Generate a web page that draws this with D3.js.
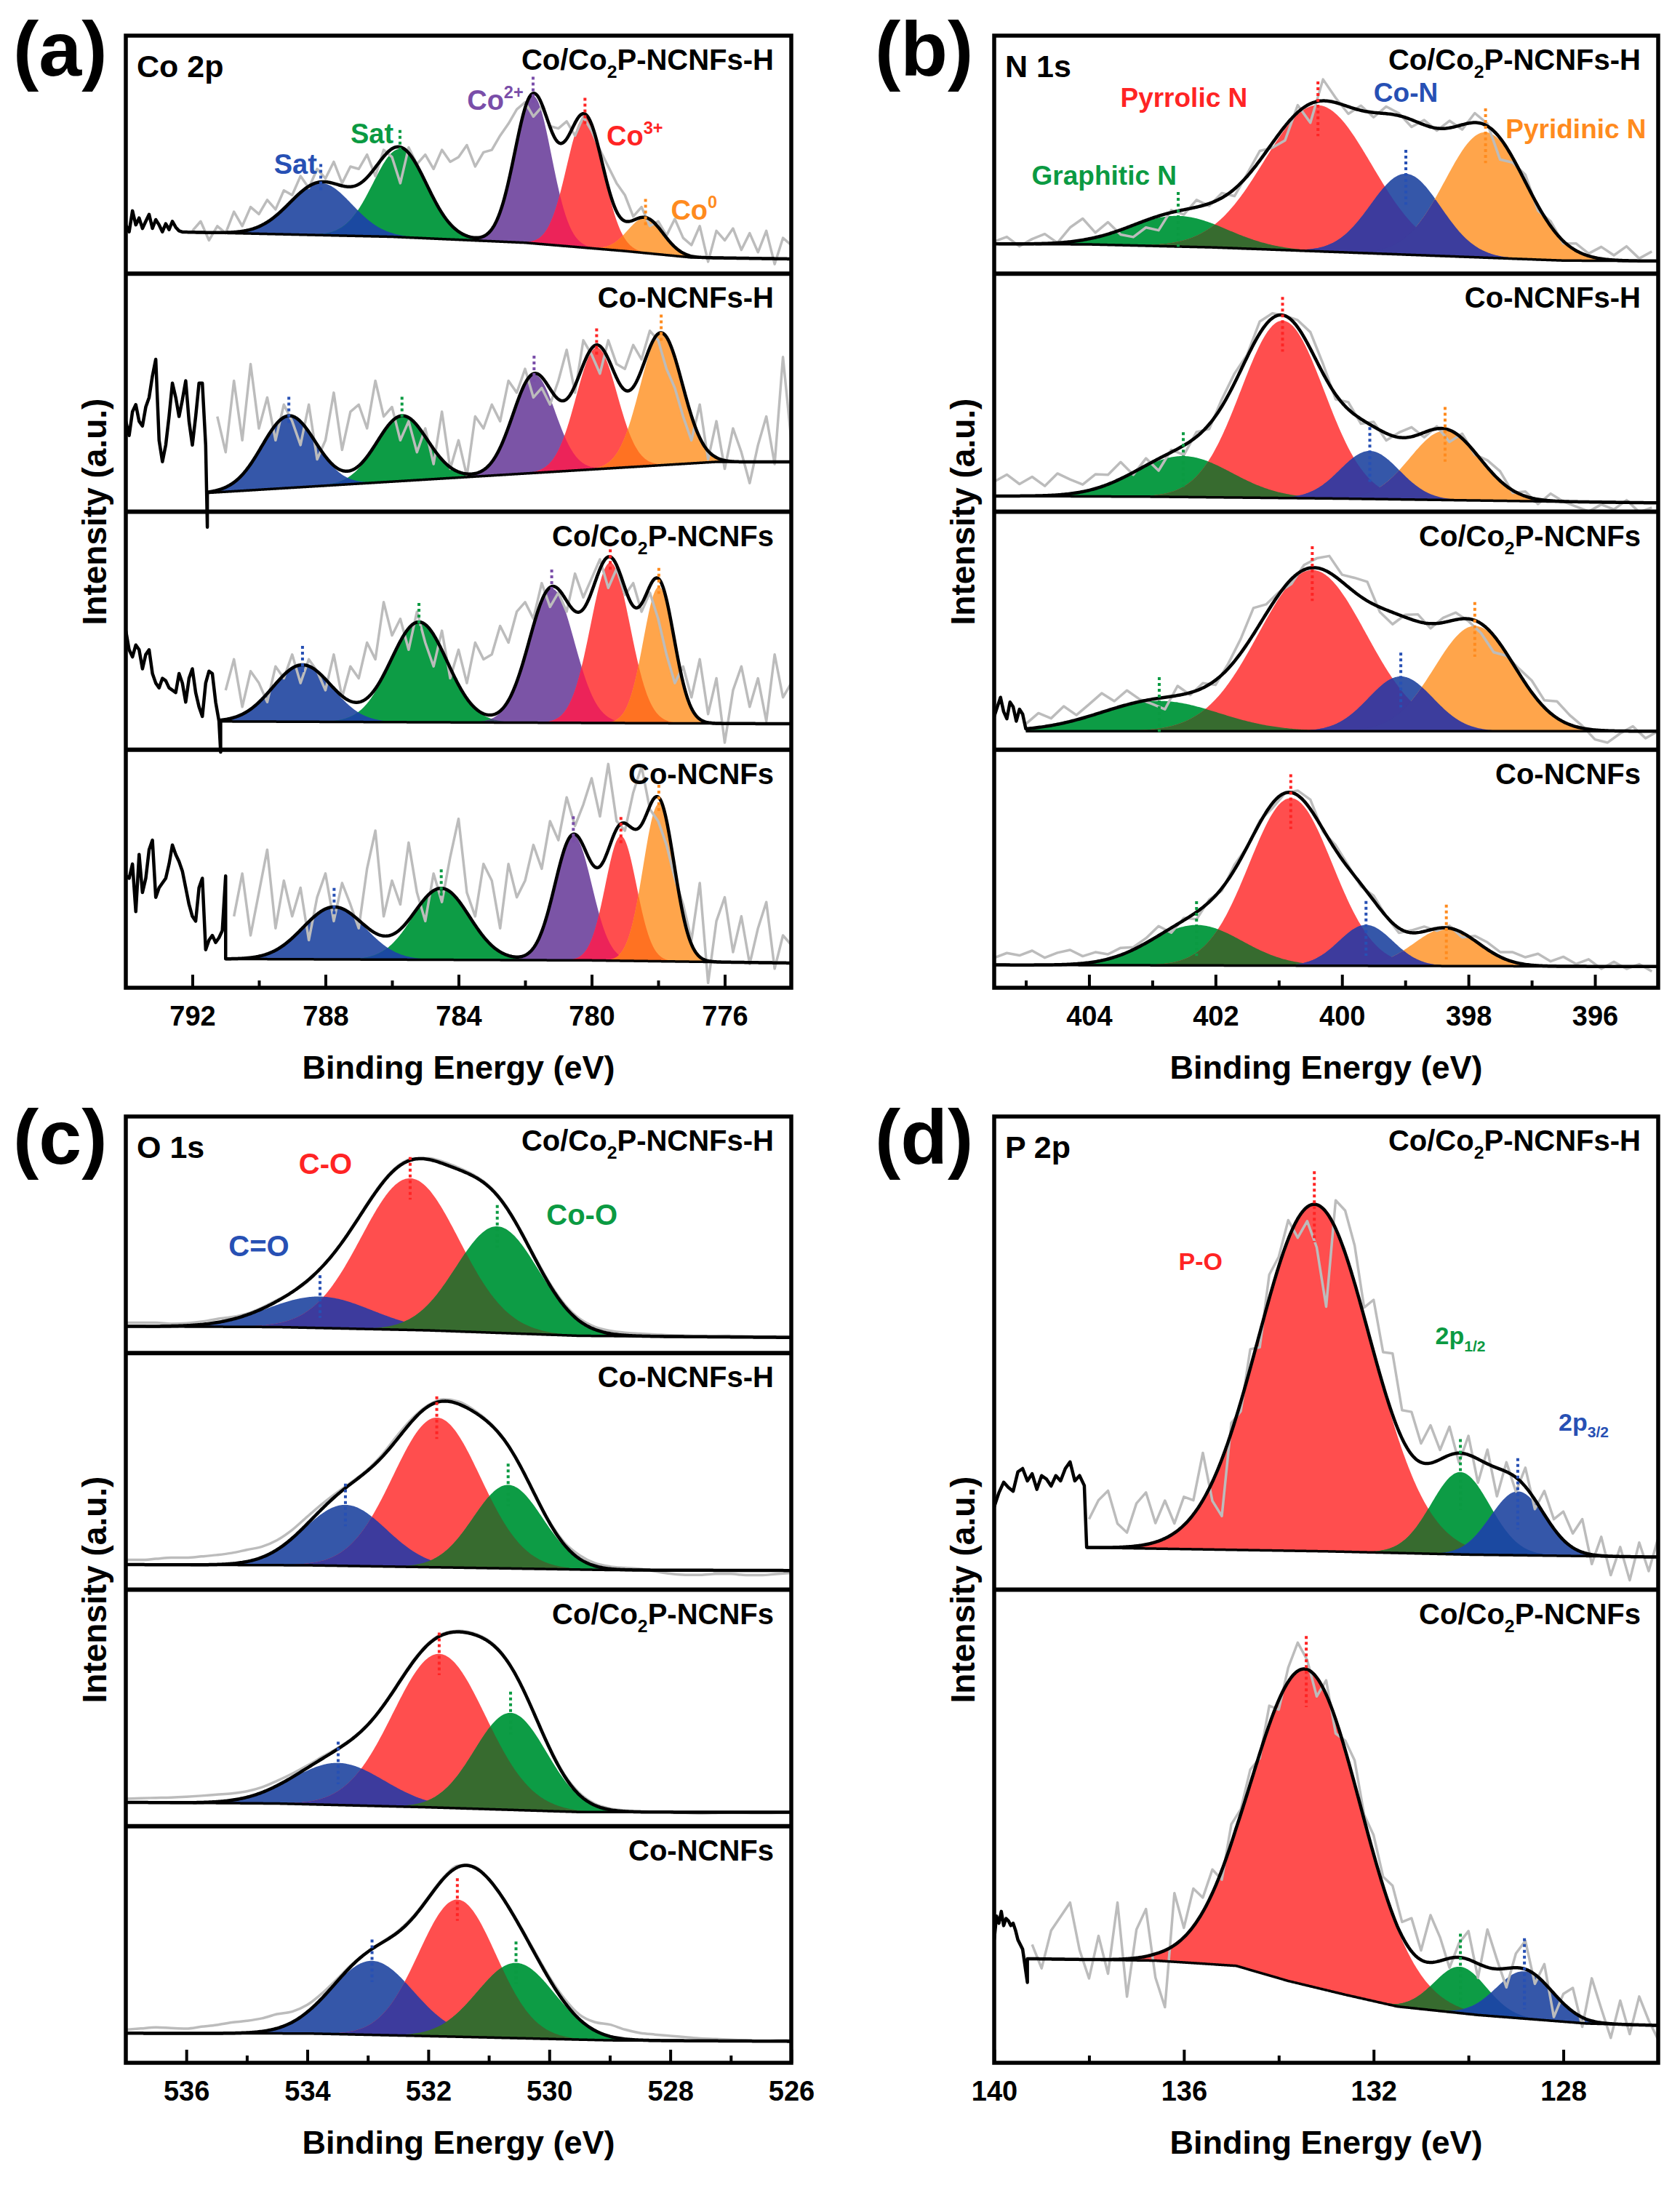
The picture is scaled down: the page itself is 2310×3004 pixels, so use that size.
<!DOCTYPE html>
<html>
<head>
<meta charset="utf-8">
<title>XPS high-resolution spectra</title>
<style>
  body { margin: 0; background: #fff; }
  svg { display: block; }
</style>
</head>
<body>
<div id="container"></div>
<script src="https://d3js.org/d3.v7.min.js"></script>
<script>

// ---------------------------------------------------------------------------
// data. Intensities are in % of the sub-panel height.
// peaks: [component, centre (eV), height, FWHM (eV)]
// bg: Shirley background anchor points [eV, %]
// pre: black raw trace left of the fitted window (e0, fixed step)
// raw: grey raw trace (absolute % for Co 2p, deviation from the fit elsewhere)
// ---------------------------------------------------------------------------

// Co 2p
const co2p_CoPH_peaks = [["blue",788.14,21.9,2.2],["green",785.76,37,1.9],["purple",781.76,62,1.3],["red",780.2,55,1.3],["orange",778.38,14.7,1.25]];
const co2p_CoPH_bg = [[792.3,17.5],[786,15.5],[782,13],[779,9.5],[777,6.8],[774,6.2]];
const co2p_CoPH_pre = [20.5,17.6,26.4,20.5,23.4,19,22,24.9,19,22.7,20.5,17.6,21,18.5,22,19.5,18,17.5];
const co2p_CoPH_raw = [18,22,14,20, 17,26,20,28, 25,31,27,35, 33,41,36,44, 40,47,38,45, 44,50,41,52, 49,38,53,46, 50,44,52,47, 49,54,45,51, 52,58,63,69, 72,66,70,62, 61,64,58,66, 60,52,45,38, 33,24,28,20, 22,16,23,15, 12,20,5,18, 14,19,10,17, 9,18,4,15, 12];

const co2p_CoH_peaks = [["blue",789.1,30.3,1.9],["green",785.7,27.4,1.8],["purple",781.73,41.3,1.5],["red",779.85,51.1,1.45],["orange",777.91,55.3,1.5]];
const co2p_CoH_bg = [[791.55,7.9],[776.3,20.9],[774,20.9]];
const co2p_CoH_pre = [38,32,42,45,38,36,44,48,57,64,30,21,28,40,54,48,40,47,55,38,28,40,54,54,28];
const co2p_CoH_raw = [40,25,55,30,62, 35,48,30,45, 38,28,45,22, 30,50,26,42, 45,35,55,40, 44,30,38,25, 35,20,42,18, 30,15,40,35, 45,38,55,50, 60,48,52,45, 55,68,50,72, 66,58,72,62, 60,70,64,76, 72,60,52,40, 30,45,22,38, 18,35,25,12, 28,40,20,65, 30];

const co2p_CoP_peaks = [["blue",788.69,23.9,2.1],["green",785.19,42.1,2.0],["purple",781.2,56.4,1.6],["red",779.44,67.4,1.4],["orange",777.98,57.3,1.1]];
const co2p_CoP_bg = [[791.15,11.9],[774,10.9]];
const co2p_CoP_pre = [50,42,39,44,42,34,40,42,32,28,26,30,29,26,25,24,32,28,20,30,34,24,18,14,28,33,32,20,12];
const co2p_CoP_raw = [25,38,18,33, 28,20,35,30, 40,28,38,33, 25,40,22,35, 30,45,38,62, 48,55,42,58, 45,35,50,30, 42,28,45,38, 40,52,45,58, 62,55,70,60, 66,58,74,64, 72,80,68,76, 65,70,58,66, 55,40,28,35, 22,38,15,30, 3,25,35,18, 30,12,40,22, 28];

const co2p_Co_peaks = [["blue",787.74,22,2.2],["green",784.52,30,2.0],["purple",780.55,52.5,1.3],["red",779.12,52.4,1.1],["orange",777.98,66.1,1.1]];
const co2p_Co_bg = [[791,12.1],[780,11.5],[774,10.4]];
const co2p_Co_pre = [47,46,52,32,56,40,46,58,62,38,42,44,46,52,60,56,53,49,42,35,30,28,42,46,16,20,22,19,21,24,47];
const co2p_Co_raw = [30,48,22, 40,58,25,45, 30,42,20,38, 48,28,44,35, 25,50,66,30, 45,35,61,40, 28,48,36,55, 71,40,30,52, 45,25,52,38, 45,60,50,70, 62,80,68,77, 88,72,94,70, 66,82,93,75, 70,60,46,35, 20,44,2,28, 38,15,30,10, 25,36,8,22, 18];

// N 1s
const n1s_CoPH_peaks = [["green",402.59,12.9,1.8],["red",400.38,61.4,2.0],["blue",398.99,34,1.3],["orange",397.73,52.7,1.5]];
const n1s_CoPH_bg = [[405.5,12.5],[404,12.3],[402,11],[400,9],[398,7],[396.5,5.5],[395,5.3]];
const n1s_CoPH_raw = [1,3,-1,2,4,0,6,9,2,5,-2,-5,-3,-6,1,-2,3,-1,2,-3,1,4,-2,-6,3,-8,9,2,-3,2,-2,3,1,-3,2,-1,3,-2,4,1,-9,-2,3,-2,2,-1,3,1,5,2,6,1,4];

const n1s_CoH_peaks = [["green",402.51,17.2,1.8],["red",400.94,74.5,1.55],["blue",399.56,20.2,1.1],["orange",398.37,29.1,1.3]];
const n1s_CoH_bg = [[405.5,6.6],[403,6.3],[400,5.5],[397,4.4],[395,3.7]];
const n1s_CoH_raw = [6,9,5,8,4,9,6,3,6,4,7,-1,3,-5,1,-4,2,-2,3,4,1,5,2,0,3,7,4,-2,3,-2,2,-3,2,4,-2,1,-5,2,-1,3,4,-1,2,-2,3,0,-2,-4,-1,-3,1,-4,-2];

const n1s_CoP_peaks = [["green",402.89,12.7,2.2],["red",400.47,67.7,2.0],["blue",399.07,23,1.2],["orange",397.9,44.2,1.5]];
const n1s_CoP_bg = [[405,7.8],[395,7.8]];
const n1s_CoP_pre = [14,18,22,16,13,20,18,12,17,15];
const n1s_CoP_raw = [2,6,3,7,2,5,8,3,6,1,-2,-5,4,-1,2,-2,2,6,11,4,1,-2,2,4,7,3,6,8,-2,-5,1,3,-2,2,3,-1,-4,-7,-1,2,5,3,7,4,1,-4,-5,-1,2,-3,0];

const n1s_Co_peaks = [["green",402.3,17,1.7],["red",400.81,70.4,1.55],["blue",399.62,17.2,1.0],["orange",398.35,15.8,1.2]];
const n1s_Co_bg = [[405.5,9.6],[395,8.9]];
const n1s_Co_raw = [3,5,4,6,3,5,6,3,4,2,3,1,2,4,-2,1,-3,1,-1,2,0,1,-2,0,2,4,-1,2,1,-1,2,0,-2,1,2,-1,1,-2,2,3,2,4,3,5,2,4,1,3,-1,2,-1,1,-2];

// O 1s
const o1s_CoPH_peaks = [["blue",533.79,13.3,2.0],["red",532.3,64.1,1.9],["green",530.86,45,1.6]];
const o1s_CoPH_bg = [[537,11.3],[534.5,11],[532,9.6],[529.5,7.3],[526,6.6]];
const o1s_CoPH_raw = [1.5,1.5,1.5,1,1,1.2,1.5,1,0.5,0.5,0.5,0,-0.5,0,0,0.3,0.5,0.5,0.5,0.5,0.5,0.8,0.8,0.6,0.5,0.5,0.5,0.6,0.8,0.9,1,1.1,1.2,1.1,1,0.8,0.5,0.4,0.3,0.4,0.5,0.4,0.3,0.4,0.5];

const o1s_CoH_peaks = [["blue",533.37,25.8,1.6],["red",531.86,63.3,1.7],["green",530.68,35.3,1.35]];
const o1s_CoH_bg = [[537,10.6],[534,10.3],[531.5,9.3],[529,8.3],[526,8.1]];
const o1s_CoH_raw = [2,2,2.5,3,3,3.5,4,4.5,5,4.5,4,3.5,3,2,1,0.5,0.5,1,1.5,1,0.5,0.8,1,0.8,0.5,0.3,0,0.3,0.5,1,1.5,1.2,1,0.8,0.5,-0.5,-1.5,-2,-2,-1.5,-1.5,-2,-2,-1.5,-1];

const o1s_CoP_peaks = [["blue",533.49,17.8,1.8],["red",531.82,65,1.8],["green",530.64,41,1.4]];
const o1s_CoP_bg = [[537,10.1],[534.5,9.6],[532,8],[529.5,6],[526,5.9]];
const o1s_CoP_raw = [1.5,1.8,2,2.2,2.5,2.8,3,2.8,2.5,2.2,2,1.5,1,0.8,0.5,0.3,0,0.3,0.5,0.5,0.5,0.5,0.5,0.5,0.5,0.4,0.3,0.4,0.5,0.6,0.8,0.6,0.5,0.4,0.3,0.1,0,-0.3,-0.5,-0.3,0,-0.2,-0.3,-0.2,0];

const o1s_Co_peaks = [["blue",532.93,31.3,1.6],["red",531.52,58,1.5],["green",530.55,31.8,1.5]];
const o1s_Co_bg = [[537,12.5],[534,12.4],[531.5,11],[529,9.5],[526,9.1]];
const o1s_Co_raw = [1.5,2,2.5,2.2,2,2.8,3.5,4.5,5,5.5,6,4.5,3,2,1,0.5,0,0.3,0.5,0.5,0.5,0.5,0.5,0.3,0,0.3,0.5,0.8,1,1.5,2,3.5,5,4,3,2.5,2,1.5,1,0.8,0.5,0.3,0,0.3,0.5];

// P 2p
const p2p_CoPH_peaks = [["red",133.25,73.3,2.8],["green",130.17,17.4,1.45],["blue",128.96,13.5,1.35]];
const p2p_CoPH_bg = [[138.05,8.9],[133,8.1],[130,7.4],[126,6.9]];
const p2p_CoPH_pre = [17.5,20.5,22.7,21.6,20.8,24.9,25.6,23,24.5,21.2,24.1,23.4,21.9,24.1,23,25.6,27,23,24.1,22];
const p2p_CoPH_raw = [6,10,12,5,3,9,11,4,8,2,6,3,10,-4,-12,2,-2,4,-3,5,2,4,-4,-3,-9,-20,6,9,8,2,11,7,13,6,9,4,8,2,6,-2,4,-5,3,-6,2,-3,4,-2,5,2,6,3,7,-2,4,-4,2,-5,3,-3,4];

const p2p_CoP_peaks = [["red",133.42,66.8,2.7],["green",130.17,9.8,1.3],["blue",128.82,10,1.4]];
const p2p_CoP_bg = [[139.3,22],[136.6,21.6],[134.9,20.5],[133.8,17.3],[132.6,14.4],[131.5,11.9],[129.8,10.1],[127.5,8.3],[126,7.9]];
const p2p_CoP_pre = [26,31,29.5,32,29,30.5,30,29,29.5,28,26,25,24];
const p2p_CoP_raw = [3,-2,6,9,12,2,-4,5,-3,12,-8,6,10,-5,-12,11,2,8,3,5,-2,4,1,3,-1,4,-2,3,6,2,-4,3,-3,2,5,1,4,2,6,3,7,2,10,5,-2,3,6,-3,8,2,-4,3,6,-2,4,-5,2,5,-2,9,3,-3,5,-2,6,1,-3];

// tick values
const co2pTicks = [792,788,784,780,776], co2pMinor = [790,786,782,778];
const n1sTicks = [404,402,400,398,396], n1sMinor = [405,403,401,399,397];
const o1sTicks = [536,534,532,530,528,526], o1sMinor = [535,533,531,529,527];
const p2pTicks = [140,136,132,128], p2pMinor = [138,134,130];

// sample names (with subscript)
const sampleNames = {
  CoPH: [["Co/Co"],["2","sub"],["P-NCNFs-H"]],
  CoH:  [["Co-NCNFs-H"]],
  CoP:  [["Co/Co"],["2","sub"],["P-NCNFs"]],
  Co:   [["Co-NCNFs"]]
};

// ---------------------------------------------------------------------------
// styles
// ---------------------------------------------------------------------------
const fillColor = {blue:"#3557a9", green:"#0d9c45", purple:"#7b54a6", red:"#ff4e4e", orange:"#ffa54b"};
const inkColor = {blue:"#2750b4", green:"#0b9a42", purple:"#7a4ea9", red:"#ff2424", orange:"#ff8b1e"};
const overlapColor = {
  "blue|green":"#1b49a1", "green|purple":"#3e4b6e", "purple|red":"#ec2359",
  "orange|red":"#ff7222", "green|red":"#376b2f", "blue|red":"#3d3b9d", "blue|orange":"#3c3d9d"
};

const W = 2310, H = 3004;

const panels = [
  { id:"a", letter:"(a)", core:"Co 2p", x0:173, x1:1088, y0:49, y1:1358, lx:18, ly:104,
    domain:[794,774], major:co2pTicks, minor:co2pMinor, dot:[8,3], grayCurve:d3.curveLinear, noteSize:38,
    subs:[
      {name:"CoPH", peaks:co2p_CoPH_peaks, bg:co2p_CoPH_bg, fit:792.3,
       pre:{v:co2p_CoPH_pre, e0:794, step:0.1}, raw:{v:co2p_CoPH_raw, e0:792, step:0.25, dev:false}},
      {name:"CoH", peaks:co2p_CoH_peaks, bg:co2p_CoH_bg, fit:791.55, spike:-6.5,
       pre:{v:co2p_CoH_pre, e0:794, step:0.1}, raw:{v:co2p_CoH_raw, e0:791.25, step:0.25, dev:false}},
      {name:"CoP", peaks:co2p_CoP_peaks, bg:co2p_CoP_bg, fit:791.15, spike:-1,
       pre:{v:co2p_CoP_pre, e0:794, step:0.1}, raw:{v:co2p_CoP_raw, e0:791, step:0.25, dev:false}},
      {name:"Co", peaks:co2p_Co_peaks, bg:co2p_Co_bg, fit:791.0,
       pre:{v:co2p_Co_pre, e0:794, step:0.1}, raw:{v:co2p_Co_raw, e0:790.75, step:0.25, dev:false}}
    ],
    notes:[
      {key:"blue", parts:[["Sat"]], e:788.9, p:46, anchor:"middle"},
      {key:"green", parts:[["Sat"]], e:786.6, p:59, anchor:"middle"},
      {key:"purple", parts:[["Co"],["2+","sup"]], e:782.05, p:73, anchor:"end"},
      {key:"red", parts:[["Co"],["3+","sup"]], e:779.55, p:58, anchor:"start"},
      {key:"orange", parts:[["Co"],["0","sup"]], e:777.62, p:27, anchor:"start"}
    ]},
  { id:"b", letter:"(b)", core:"N 1s", x0:1367, x1:2280, y0:49, y1:1358, lx:1203, ly:104,
    domain:[405.5,395], major:n1sTicks, minor:n1sMinor, dot:[10,13], grayCurve:d3.curveLinear, noteSize:37,
    subs:[
      {name:"CoPH", peaks:n1s_CoPH_peaks, bg:n1s_CoPH_bg, raw:{v:n1s_CoPH_raw, e0:405.5, step:0.2, dev:true}},
      {name:"CoH", peaks:n1s_CoH_peaks, bg:n1s_CoH_bg, raw:{v:n1s_CoH_raw, e0:405.5, step:0.2, dev:true}},
      {name:"CoP", peaks:n1s_CoP_peaks, bg:n1s_CoP_bg, fit:405.0,
       pre:{v:n1s_CoP_pre, e0:405.5, step:0.05}, raw:{v:n1s_CoP_raw, e0:405.0, step:0.2, dev:true}},
      {name:"Co", peaks:n1s_Co_peaks, bg:n1s_Co_bg, raw:{v:n1s_Co_raw, e0:405.5, step:0.2, dev:true}}
    ],
    notes:[
      {key:"green", parts:[["Graphitic N"]], e:403.76, p:41.3, anchor:"middle"},
      {key:"red", parts:[["Pyrrolic N"]], e:402.5, p:74.2, anchor:"middle"},
      {key:"blue", parts:[["Co-N"]], e:398.99, p:76.4, anchor:"middle"},
      {key:"orange", parts:[["Pyridinic N"]], e:396.3, p:61, anchor:"middle"}
    ]},
  { id:"c", letter:"(c)", core:"O 1s", x0:173, x1:1088, y0:1535, y1:2836, lx:18, ly:1600,
    domain:[537,526], major:o1sTicks, minor:o1sMinor, dot:[9,9], grayCurve:d3.curveMonotoneX, noteSize:40,
    subs:[
      {name:"CoPH", peaks:o1s_CoPH_peaks, bg:o1s_CoPH_bg, raw:{v:o1s_CoPH_raw, e0:537, step:0.25, dev:true}},
      {name:"CoH", peaks:o1s_CoH_peaks, bg:o1s_CoH_bg, raw:{v:o1s_CoH_raw, e0:537, step:0.25, dev:true}},
      {name:"CoP", peaks:o1s_CoP_peaks, bg:o1s_CoP_bg, raw:{v:o1s_CoP_raw, e0:537, step:0.25, dev:true}},
      {name:"Co", peaks:o1s_Co_peaks, bg:o1s_Co_bg, raw:{v:o1s_Co_raw, e0:537, step:0.25, dev:true}}
    ],
    notes:[
      {key:"red", parts:[["C-O"]], e:533.7, p:80.2, anchor:"middle"},
      {key:"green", parts:[["Co-O"]], e:529.46, p:58.6, anchor:"middle"},
      {key:"blue", parts:[["C=O"]], e:534.8, p:45.4, anchor:"middle"}
    ]},
  { id:"d", letter:"(d)", core:"P 2p", x0:1367, x1:2280, y0:1535, y1:2836, lx:1203, ly:1600,
    domain:[140,126], major:p2pTicks, minor:p2pMinor, dot:[7,8], grayCurve:d3.curveLinear, noteSize:34,
    subs:[
      {name:"CoPH", peaks:p2p_CoPH_peaks, bg:p2p_CoPH_bg, fit:138.05,
       pre:{v:p2p_CoPH_pre, e0:140, step:0.1}, raw:{v:p2p_CoPH_raw, e0:138, step:0.2, dev:true}},
      {name:"CoP", peaks:p2p_CoP_peaks, bg:p2p_CoP_bg, fit:139.3, spike:17,
       pre:{v:p2p_CoP_pre, e0:140, step:0.05}, raw:{v:p2p_CoP_raw, e0:139.2, step:0.2, dev:true}}
    ],
    notes:[
      {key:"red", parts:[["P-O"]], e:135.65, p:69.4, anchor:"middle"},
      {key:"green", parts:[["2p"],["1/2","sub"]], e:130.7, p:53.7, anchor:"start"},
      {key:"blue", parts:[["2p"],["3/2","sub"]], e:128.1, p:35.5, anchor:"start"}
    ]}
];

// ---------------------------------------------------------------------------

const FONT = "'Liberation Sans', Arial, Helvetica, sans-serif";
const sigmaOf = fwhm => fwhm / (2 * Math.sqrt(2 * Math.LN2));
const peakAt = (e, p) => p[2] * Math.exp(-0.5 * Math.pow((e - p[1]) / sigmaOf(p[3]), 2));

// text with sub/superscript pieces
function rich(sel, parts, F) {
  let shift = 0;
  parts.forEach(([t, mode]) => {
    const target = mode === "sub" ? 0.28 * F : mode === "sup" ? -0.42 * F : 0;
    sel.append("tspan")
      .attr("dy", target - shift)
      .attr("font-size", mode ? 0.62 * F : F)
      .text(t);
    shift = target;
  });
}

const svg = d3.select("#container").append("svg")
    .attr("width", W)
    .attr("height", H)
    .attr("font-family", FONT)
    .attr("font-weight", "bold");

svg.append("rect").attr("width", W).attr("height", H).attr("fill", "#fff");
const defs = svg.append("defs");

panels.forEach(P => {
  const x = d3.scaleLinear().domain(P.domain).range([P.x0, P.x1]);
  const sh = (P.y1 - P.y0) / P.subs.length;

  defs.append("clipPath").attr("id", "clip-" + P.id)
    .append("rect")
      .attr("x", P.x0).attr("y", P.y0)
      .attr("width", P.x1 - P.x0).attr("height", P.y1 - P.y0);

  const plot = svg.append("g").attr("clip-path", `url(#clip-${P.id})`);
  const deco = svg.append("g");

  P.subs.forEach((S, i) => {
    const top = P.y0 + i * sh, bottom = top + sh;
    const y = d3.scaleLinear().domain([0, 100]).range([bottom, top]);
    const bg = d3.scaleLinear()
        .domain(S.bg.map(d => d[0]))
        .range(S.bg.map(d => d[1]))
        .clamp(true);
    const start = S.fit != null ? S.fit : P.domain[0];
    const grid = d3.range(start, P.domain[1], -0.02);
    grid.push(P.domain[1]);
    const envelope = e => bg(e) + d3.sum(S.peaks, p => peakAt(e, p));

    const g = plot.append("g");
    const band = fn => d3.area()
        .x(e => x(e))
        .y0(e => y(bg(e)))
        .y1(e => y(bg(e) + fn(e)));

    // fitted components
    S.peaks.forEach(p => {
      const pts = grid.filter(e => peakAt(e, p) > 0.2);
      g.append("path")
        .attr("d", band(e => peakAt(e, p))(pts))
        .attr("fill", fillColor[p[0]]);
    });

    // overlapping parts of neighbouring components
    d3.pairs(S.peaks).forEach(([p, q]) => {
      const lo = e => Math.min(peakAt(e, p), peakAt(e, q));
      const pts = grid.filter(e => lo(e) > 0.2);
      if (pts.length < 2) return;
      g.append("path")
        .attr("d", band(lo)(pts))
        .attr("fill", overlapColor[[p[0], q[0]].sort().join("|")]);
    });

    // grey raw trace
    const R = S.raw;
    const rawPts = R.v.map((v, k) => {
      const e = R.e0 - k * R.step;
      return [e, R.dev ? envelope(e) + v : v];
    });
    g.append("path")
      .attr("d", d3.line().curve(P.grayCurve).x(d => x(d[0])).y(d => y(d[1]))(rawPts))
      .attr("fill", "none")
      .attr("stroke", "#bcbcbc")
      .attr("stroke-width", 3.5)
      .attr("stroke-linejoin", "round");

    // background
    g.append("path")
      .attr("d", d3.line().x(e => x(e)).y(e => y(bg(e)))(grid))
      .attr("fill", "none")
      .attr("stroke", "#000")
      .attr("stroke-width", 3.5);

    // black: raw data before the window, then the fit envelope
    const black = [];
    if (S.pre) S.pre.v.forEach((v, k) => black.push([S.pre.e0 - k * S.pre.step, v]));
    if (S.spike != null) black.push([start, S.spike]);
    grid.forEach(e => black.push([e, envelope(e)]));
    g.append("path")
      .attr("d", d3.line().x(d => x(d[0])).y(d => y(d[1]))(black))
      .attr("fill", "none")
      .attr("stroke", "#000")
      .attr("stroke-width", 4.5)
      .attr("stroke-linejoin", "round");

    // dotted peak markers
    S.peaks.forEach(p => {
      const peakTop = bg(p[1]) + p[2];
      g.append("line")
        .attr("x1", x(p[1])).attr("x2", x(p[1]))
        .attr("y1", y(peakTop + P.dot[0]))
        .attr("y2", y(peakTop - P.dot[1]))
        .attr("stroke", inkColor[p[0]])
        .attr("stroke-width", 4)
        .attr("stroke-dasharray", "4 4");
    });

    // sample name
    const name = deco.append("text")
        .attr("x", P.x1 - 24)
        .attr("y", top + 47)
        .attr("text-anchor", "end")
        .attr("font-size", 40)
        .attr("fill", "#000");
    rich(name, sampleNames[S.name], 40);

    if (i === 0) {
      deco.append("text")
        .attr("x", P.x0 + 15)
        .attr("y", top + 57)
        .attr("font-size", 43)
        .text(P.core);

      P.notes.forEach(n => {
        const t = deco.append("text")
            .attr("x", x(n.e))
            .attr("y", y(n.p) + 0.36 * P.noteSize)
            .attr("text-anchor", n.anchor)
            .attr("font-size", P.noteSize)
            .attr("fill", inkColor[n.key]);
        rich(t, n.parts, P.noteSize);
      });
    }

    if (i > 0) {
      deco.append("line")
        .attr("x1", P.x0).attr("x2", P.x1)
        .attr("y1", top).attr("y2", top)
        .attr("stroke", "#000")
        .attr("stroke-width", 6);
    }
  });

  // frame
  deco.append("rect")
    .attr("x", P.x0).attr("y", P.y0)
    .attr("width", P.x1 - P.x0).attr("height", P.y1 - P.y0)
    .attr("fill", "none")
    .attr("stroke", "#000")
    .attr("stroke-width", 5.5);

  // bottom axis, ticks pointing inwards
  const axMajor = deco.append("g")
      .attr("transform", `translate(0,${P.y1})`)
      .call(d3.axisBottom(x).tickValues(P.major).tickSize(-18).tickPadding(25).tickFormat(d3.format("d")));
  const axMinor = deco.append("g")
      .attr("transform", `translate(0,${P.y1})`)
      .call(d3.axisBottom(x).tickValues(P.minor).tickSize(-10).tickFormat(""));
  [axMajor, axMinor].forEach(a => {
    a.select(".domain").remove();
    a.selectAll("line").attr("stroke", "#000").attr("stroke-width", 4);
  });
  axMajor.selectAll("text")
    .attr("font-size", 38)
    .attr("font-family", FONT)
    .attr("font-weight", "bold")
    .attr("fill", "#000");

  deco.append("text")
    .attr("x", (P.x0 + P.x1) / 2)
    .attr("y", P.y1 + 125)
    .attr("text-anchor", "middle")
    .attr("font-size", 45)
    .text("Binding Energy (eV)");

  deco.append("text")
    .attr("transform", `translate(${P.x0 - 27},${(P.y0 + P.y1) / 2}) rotate(-90)`)
    .attr("text-anchor", "middle")
    .attr("font-size", 46)
    .text("Intensity (a.u.)");

  deco.append("text")
    .attr("x", P.lx)
    .attr("y", P.ly)
    .attr("font-size", 106)
    .text(P.letter);
});

</script>
</body>
</html>
